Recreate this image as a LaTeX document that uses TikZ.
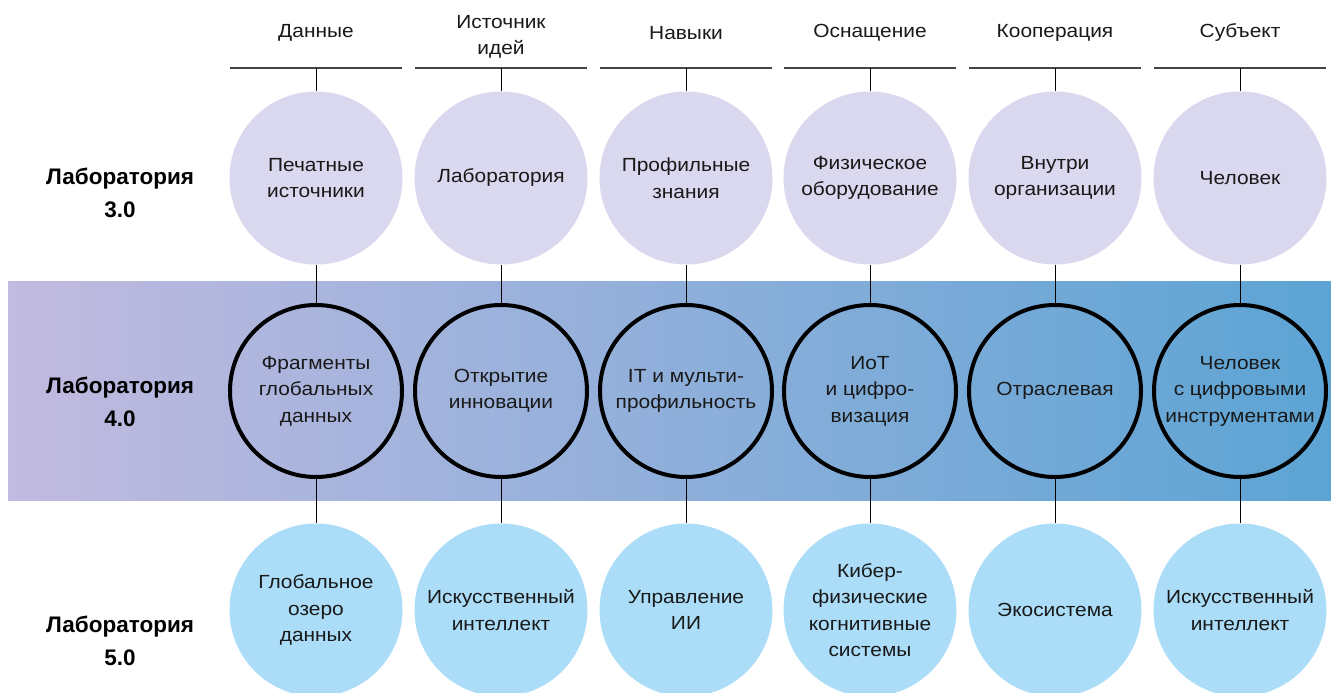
\documentclass[tikz,border=0pt]{standalone}
\usepackage{fontspec}
\setmainfont{Liberation Sans}[FakeStretch=1.1]
\newfontfamily\lblfont{Liberation Sans}
\definecolor{topfill}{HTML}{D9D8EF}
\definecolor{botfill}{HTML}{ABDDF8}
\definecolor{bandleft}{HTML}{C2BAE0}
\definecolor{bandright}{HTML}{5CA4D4}
\definecolor{hdrline}{HTML}{444444}
\begin{document}
\begin{tikzpicture}[x=1pt,y=-1pt,
  txt/.style={font=\fontsize{19}{26.5}\selectfont, align=center, text=black!90},
  topc/.style={circle, fill=topfill, minimum size=173pt, inner sep=0pt, txt},
  midc/.style={circle, draw=black, line width=4pt, minimum size=172pt, inner sep=0pt, txt},
  botc/.style={circle, fill=botfill, minimum size=173pt, inner sep=0pt, txt},
  hdr/.style={txt},
  rowlbl/.style={font=\lblfont\bfseries\fontsize{22.5}{32.5}\selectfont, align=center},
  conn/.style={draw=black, line width=1pt},
  hline/.style={draw=hdrline, line width=1.5pt}]
\useasboundingbox (0,0) rectangle (1331,693);
\fill[white] (0,0) rectangle (1331,693);
\shade[left color=bandleft, right color=bandright] (8,281) rectangle (1331,500);
% header texts
\node[hdr] (h1) at (316,33) {Данные};
\node[hdr] (h2) at (501,37) {Источник\\идей};
\node[hdr] (h3) at (686,33) {Навыки};
\node[hdr] (h4) at (870,33) {Оснащение};
\node[hdr] (h5) at (1055,33) {Кооперация};
\node[hdr] (h6) at (1240,33) {Субъект};
% row labels
\node[rowlbl] (r3) at (120,193) {Лаборатория\\3.0};
\node[rowlbl] (r4) at (120,402) {Лаборатория\\4.0};
\node[rowlbl] (r5) at (120,641) {Лаборатория\\5.0};
% circles
\node[topc] (t1) at (316,178) {Печатные\\источники};
\node[topc] (t2) at (501,178) {Лаборатория};
\node[topc] (t3) at (686,178) {Профильные\\знания};
\node[topc] (t4) at (870,178) {Физическое\\оборудование};
\node[topc] (t5) at (1055,178) {Внутри\\организации};
\node[topc] (t6) at (1240,178) {Человек};
\node[midc] (m1) at (316,391) {Фрагменты\\глобальных\\данных};
\node[midc] (m2) at (501,391) {Открытие\\инновации};
\node[midc] (m3) at (686,391) {IT и мульти-\\профильность};
\node[midc] (m4) at (870,391) {ИоТ\\и цифро-\\визация};
\node[midc] (m5) at (1055,391) {Отраслевая};
\node[midc] (m6) at (1240,391) {Человек\\с цифровыми\\инструментами};
\node[botc] (b1) at (316,610) {Глобальное\\озеро\\данных};
\node[botc] (b2) at (501,610) {Искусственный\\интеллект};
\node[botc] (b3) at (686,610) {Управление\\ИИ};
\node[botc] (b4) at (870,610) {Кибер-\\физические\\когнитивные\\системы};
\node[botc] (b5) at (1055,610) {Экосистема};
\node[botc] (b6) at (1240,610) {Искусственный\\интеллект};
% header lines and connectors
\foreach \i/\x in {1/316,2/501,3/686,4/870,5/1055,6/1240}{
  \coordinate (hl\i) at (\x-86,68);
  \coordinate (hr\i) at (\x+86,68);
  \coordinate (hc\i) at (\x,68);
  \draw[hline] (hl\i) -- (hr\i);
  \draw[conn] (hc\i) -- (t\i.north);
  \draw[conn] (t\i.south) -- (m\i.north);
  \draw[conn] (m\i.south) -- (b\i.north);
}
\end{tikzpicture}
\end{document}
